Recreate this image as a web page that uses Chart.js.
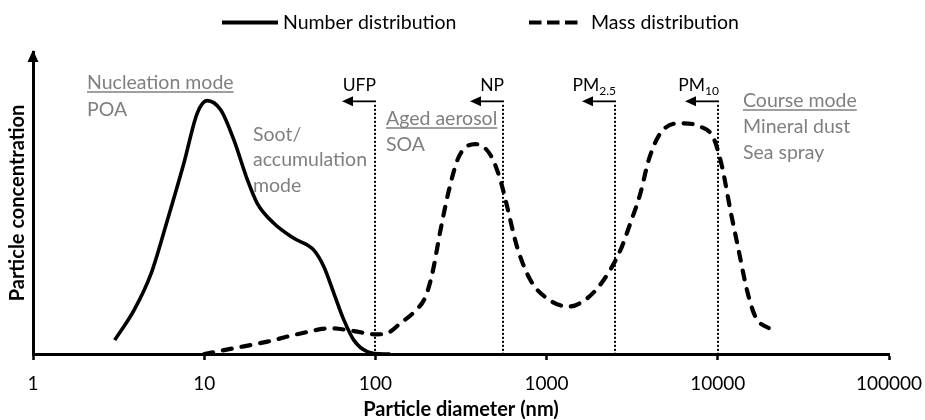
<!DOCTYPE html>
<html>
<head>
<meta charset="utf-8">
<script src="https://cdn.jsdelivr.net/npm/chart.js@4/dist/chart.umd.min.js"></script>
<style>
  html, body { margin: 0; padding: 0; background: #ffffff; }
  #wrap { width: 925px; height: 420px; }
</style>
</head>
<body>
<div id="wrap"><canvas id="chart"></canvas></div>
<script>
// Particle size distributions (diameter in nm, concentration in arbitrary units 0-100)
const numberDiameters = [3.0, 3.9, 4.9, 6.1, 7.6, 9.1, 10.4, 12.5, 14.9, 17.9, 20.4, 25.5, 33.4, 43.7, 50.0, 57.2, 65.4, 74.8, 89.6, 112, 122];
const numberValues    = [4.6, 14.6, 26.7, 44.4, 63.1, 79.7, 83.9, 80.8, 70.9, 57.6, 49.9, 43.3, 38.3, 34.4, 28.9, 20.1, 11.3, 4.6, 0.8, 0, 0];

const massDiameters = [10, 14.9, 23.4, 36.5, 54.7, 74.8, 100, 115, 140, 171, 196, 215, 240, 269, 307, 384, 470, 537, 588, 672, 804, 1006, 1346, 1722, 2155, 2699, 3084, 3531, 3946, 4617, 6039, 7907, 9459, 10590, 11840, 13230, 14800, 16560, 20280];
const massValues    = [0, 1.9, 4.1, 6.8, 8.5, 7.6, 6.5, 6.7, 10.2, 14.3, 18.9, 26.7, 41.0, 54.3, 65.3, 69.5, 65.9, 57.6, 48.8, 35.5, 24.5, 18.4, 15.7, 18.4, 24.5, 34.4, 43.3, 53.2, 64.2, 73.1, 76.4, 75.3, 71.4, 62.0, 47.7, 34.4, 21.2, 12.4, 8.2];

// Size cut-offs (nm) with their labels
const cutoffSizes = [100, 560, 2500, 10000];
const cutoffNames = ['UFP', 'NP', 'PM', 'PM'];
const cutoffSubs  = ['', '', '2.5', '10'];

// Decade ticks of the diameter axis
const tickValues = [1, 10, 100, 1000, 10000, 100000];

const seriesNames = ['Number distribution', 'Mass distribution'];

const FONT = 'Lato, "Open Sans", sans-serif';
const GREY = '#7f7f7f';

// Mode descriptions: [text, x, baseline, underlined]
const modeNotes = [
  ['Nucleation mode', 87, 89, true],
  ['POA', 87, 116, false],
  ['Soot/', 253, 141, false],
  ['accumulation', 253, 166, false],
  ['mode', 253, 192, false],
  ['Aged aerosol', 386, 125, true],
  ['SOA', 386, 151, false],
  ['Course mode', 743, 107, true],
  ['Mineral dust', 743, 133, false],
  ['Sea spray', 743, 159, false]
];

const toPoints = (xs, ys) => xs.map((x, i) => ({ x: x, y: ys[i] }));

// Dotted cut-off lines with left-pointing arrows and labels
const cutoffPlugin = {
  id: 'cutoffs',
  beforeDatasetsDraw(chart) {
    const { ctx, scales: { x, y } } = chart;
    const yTop = y.getPixelForValue(82.5);
    const yBase = y.getPixelForValue(0);
    ctx.save();
    cutoffSizes.forEach((size, i) => {
      const px = Math.round(x.getPixelForValue(size));
      // dotted vertical
      ctx.strokeStyle = '#000';
      ctx.lineWidth = 2;
      ctx.setLineDash([2, 2]);
      ctx.beginPath();
      ctx.moveTo(px, yTop);
      ctx.lineTo(px, yBase);
      ctx.stroke();
      ctx.setLineDash([]);
      // arrow
      const ay = yTop - 3.5;
      ctx.lineWidth = 1.8;
      ctx.beginPath();
      ctx.moveTo(px + 1, ay);
      ctx.lineTo(px - 24, ay);
      ctx.stroke();
      ctx.fillStyle = '#000';
      ctx.beginPath();
      ctx.moveTo(px - 33, ay);
      ctx.lineTo(px - 22, ay - 5);
      ctx.lineTo(px - 22, ay + 5);
      ctx.closePath();
      ctx.fill();
      // label, right-aligned on the line
      const base = ay - 10;
      ctx.textBaseline = 'alphabetic';
      ctx.textAlign = 'right';
      let right = px + 1;
      if (cutoffSubs[i]) {
        ctx.font = '12px ' + FONT;
        ctx.fillText(cutoffSubs[i], right, base + 4);
        right -= ctx.measureText(cutoffSubs[i]).width;
      }
      ctx.font = '17.5px ' + FONT;
      ctx.fillText(cutoffNames[i], right, base);
    });
    ctx.restore();
  },
  afterDraw(chart) {
    const { ctx, chartArea } = chart;
    ctx.save();
    // arrow head on the concentration axis
    ctx.fillStyle = '#000';
    ctx.beginPath();
    ctx.moveTo(chartArea.left, chartArea.top - 2);
    ctx.lineTo(chartArea.left - 5.5, chartArea.top + 10);
    ctx.lineTo(chartArea.left + 5.5, chartArea.top + 10);
    ctx.closePath();
    ctx.fill();

    // mode descriptions
    ctx.font = '19.5px ' + FONT;
    ctx.fillStyle = GREY;
    ctx.strokeStyle = GREY;
    ctx.textAlign = 'left';
    ctx.textBaseline = 'alphabetic';
    modeNotes.forEach(([text, tx, ty, under]) => {
      ctx.fillText(text, tx, ty);
      if (under) {
        const w = ctx.measureText(text).width;
        ctx.lineWidth = 1.5;
        ctx.beginPath();
        ctx.moveTo(tx, ty + 3);
        ctx.lineTo(tx + w, ty + 3);
        ctx.stroke();
      }
    });

    // legend
    ctx.fillStyle = '#000';
    ctx.strokeStyle = '#000';
    ctx.lineWidth = 4;
    ctx.beginPath();
    ctx.moveTo(222, 22.5);
    ctx.lineTo(278, 22.5);
    ctx.stroke();
    ctx.fillText(seriesNames[0], 283, 29);
    ctx.setLineDash([12.5, 5.5]);
    ctx.beginPath();
    ctx.moveTo(529, 22.5);
    ctx.lineTo(578, 22.5);
    ctx.stroke();
    ctx.setLineDash([]);
    ctx.fillText(seriesNames[1], 591, 29);
    ctx.restore();
  }
};

new Chart(document.getElementById('chart'), {
  type: 'scatter',
  data: {
    datasets: [
      {
        label: seriesNames[0],
        data: toPoints(numberDiameters, numberValues),
        showLine: true,
        borderColor: '#000',
        borderWidth: 3.6,
        pointRadius: 0,
        cubicInterpolationMode: 'monotone',
        fill: false
      },
      {
        label: seriesNames[1],
        data: toPoints(massDiameters, massValues),
        showLine: true,
        borderColor: '#000',
        borderWidth: 4.2,
        borderDash: [9, 10],
        borderCapStyle: 'round',
        pointRadius: 0,
        cubicInterpolationMode: 'monotone',
        fill: false
      }
    ]
  },
  options: {
    responsive: true,
    maintainAspectRatio: false,
    animation: false,
    layout: { padding: { top: 52, right: 36, bottom: 0, left: 0 } },
    plugins: { legend: { display: false }, tooltip: { enabled: false } },
    scales: {
      x: {
        type: 'logarithmic',
        min: 1,
        max: 100000,
        afterBuildTicks: (scale) => { scale.ticks = tickValues.map(v => ({ value: v })); },
        afterFit: (scale) => {
          scale.height = 66;
          scale.paddingLeft = 0;
          scale.paddingRight = 0;
        },
        ticks: {
          color: '#000',
          padding: 12,
          font: { family: FONT, size: 19 },
          maxRotation: 0,
          autoSkip: false,
          callback: (v) => String(v)
        },
        grid: {
          display: true,
          drawOnChartArea: false,
          drawTicks: true,
          tickLength: 6,
          tickWidth: 2.5,
          tickColor: '#000'
        },
        border: { display: true, color: '#000', width: 3 },
        title: {
          display: true,
          text: 'Particle diameter (nm)',
          color: '#000',
          font: { family: FONT, size: 20, weight: 'bold', lineHeight: 1 },
          padding: { top: 0, bottom: 0 }
        }
      },
      y: {
        min: 0,
        max: 100,
        afterFit: (scale) => { scale.width = 33; },
        ticks: { display: false },
        grid: { display: false, drawTicks: false },
        border: { display: true, color: '#000', width: 3 },
        title: {
          display: true,
          text: 'Particle concentration',
          color: '#000',
          font: { family: FONT, size: 20, weight: 'bold', lineHeight: 1 },
          padding: { top: 8, bottom: 0 }
        }
      }
    }
  },
  plugins: [cutoffPlugin]
});
</script>
</body>
</html>
